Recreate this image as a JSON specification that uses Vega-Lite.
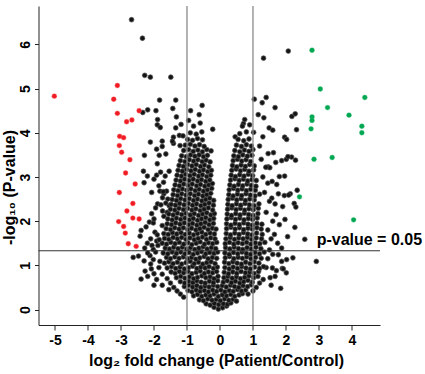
{
"$schema": "https://vega.github.io/schema/vega-lite/v6.json",
"width": 341.5,
"height": 319,
"autosize": {"type": "none"},
"padding": {"left": 38.5, "top": 6, "right": 45, "bottom": 49},
"background": "white",
"config": {
 "view": {"stroke": null},
 "font": "Liberation Sans",
 "axis": {"grid": false, "labelOverlap": false, "domainColor": "#222", "domainWidth": 1, "tickColor": "#222", "tickSize": 5, "labelFont": "Liberation Sans", "labelFontSize": 14, "labelFontWeight": "bold", "labelColor": "#000", "titleFont": "Liberation Sans", "titleFontSize": 16, "titleFontWeight": "bold", "titleColor": "#000"}
},
"datasets": {
 "down": [
  {"x":-5.02,"y":4.83},{"x":-3.11,"y":5.07},{"x":-3.22,"y":4.76},{"x":-3.11,"y":4.44},{"x":-2.45,"y":4.5},{"x":-2.83,"y":4.25},{"x":-2.67,"y":4.29},{"x":-3.04,"y":3.92},{"x":-2.92,"y":3.89},{"x":-3.05,"y":3.71},{"x":-2.98,"y":3.56},{"x":-2.73,"y":3.39},{"x":-2.86,"y":3.09},{"x":-2.57,"y":2.84},{"x":-3.05,"y":2.65},{"x":-2.64,"y":2.4},{"x":-2.82,"y":2.23},{"x":-2.64,"y":2.07},{"x":-2.45,"y":2.05},{"x":-3.07,"y":1.99},{"x":-2.92,"y":1.88},{"x":-2.87,"y":1.73},{"x":-2.78,"y":1.49},{"x":-2.54,"y":1.43}
 ],
 "up": [
  {"x":2.79,"y":5.87},{"x":3.04,"y":4.99},{"x":4.39,"y":4.8},{"x":3.26,"y":4.57},{"x":3.91,"y":4.4},{"x":2.79,"y":4.36},{"x":2.79,"y":4.28},{"x":4.3,"y":4.15},{"x":2.76,"y":4.09},{"x":4.3,"y":4.0},{"x":2.85,"y":3.4},{"x":3.4,"y":3.44},{"x":2.41,"y":2.55},{"x":4.05,"y":2.03}
 ],
 "ns": [
  {"x":-2.68,"y":6.56},{"x":-2.35,"y":6.14},{"x":-2.28,"y":5.3},{"x":-2.11,"y":5.26},{"x":-1.49,"y":5.26},
  {"x":-1.83,"y":4.74},{"x":-1.34,"y":4.74},{"x":-2.34,"y":4.46},{"x":-2.19,"y":4.52},{"x":-1.94,"y":4.5},{"x":-1.43,"y":4.55},{"x":-0.89,"y":4.5},{"x":-0.54,"y":4.62},{"x":-0.63,"y":4.41},{"x":-1.32,"y":4.36},{"x":-1.89,"y":4.3},{"x":-1.9,"y":4.18},{"x":-1.81,"y":4.12},{"x":-1.18,"y":4.19},{"x":-1.34,"y":4.11},{"x":-0.22,"y":4.08},{"x":-1.23,"y":3.94},{"x":-1.12,"y":3.93},{"x":-1.41,"y":3.9},{"x":-1.75,"y":3.81},{"x":-2.11,"y":3.79},{"x":-1.41,"y":3.76},{"x":-1.21,"y":3.71},{"x":-1.44,"y":3.81},{"x":-1.92,"y":3.63},{"x":-1.75,"y":3.69},{"x":-2.29,"y":3.49},{"x":-1.84,"y":3.49},{"x":-1.64,"y":3.52},{"x":-0.27,"y":3.59},
  {"x":-2.32,"y":3.13},{"x":-2.2,"y":3.02},{"x":-1.92,"y":3.04},{"x":-1.8,"y":3.11},{"x":-1.66,"y":3.02},{"x":-1.54,"y":3.13},{"x":-2.3,"y":2.87},{"x":-1.71,"y":2.88},{"x":-2.07,"y":2.65},{"x":-1.82,"y":2.68},{"x":-1.7,"y":2.62},{"x":-1.62,"y":2.68},{"x":-1.74,"y":2.53},{"x":-1.58,"y":2.5},{"x":-1.64,"y":2.41},{"x":-1.89,"y":2.39},{"x":-1.79,"y":2.37},{"x":-1.54,"y":2.35},{"x":-1.6,"y":2.2},{"x":-1.74,"y":2.23},{"x":-1.7,"y":2.11},{"x":-2.07,"y":2.17},{"x":-2.14,"y":1.98},{"x":-2.02,"y":1.96},{"x":-2.24,"y":1.87},{"x":-2.39,"y":1.79},{"x":-2.42,"y":1.66},{"x":-1.97,"y":1.75},{"x":-1.9,"y":1.69},{"x":-1.75,"y":1.9},
  {"x":-2.2,"y":1.5},{"x":-2.28,"y":1.39},{"x":-2.06,"y":1.45},{"x":-1.92,"y":1.55},{"x":-1.84,"y":1.58},{"x":-2.02,"y":1.36},{"x":-2.12,"y":1.22},{"x":-2.19,"y":1.28},{"x":-2.39,"y":0.69},{"x":-2.19,"y":0.75},{"x":-2.27,"y":0.87},{"x":-2.08,"y":0.92},{"x":-2.1,"y":1.03},{"x":-2.02,"y":1.13},{"x":-1.82,"y":1.09},{"x":-2.47,"y":1.21},{"x":-2.63,"y":1.18},{"x":-2.0,"y":0.81},{"x":-1.92,"y":0.68},{"x":-1.72,"y":2.67},
  {"x":-1.9,"y":3.3},{"x":-2.0,"y":2.95},{"x":-1.85,"y":2.8},{"x":-1.95,"y":2.3},{"x":-2.0,"y":2.05},{"x":-1.88,"y":1.45},{"x":-1.95,"y":1.3},{"x":-2.1,"y":1.6},{"x":-2.3,"y":1.1},{"x":-1.85,"y":0.95},{"x":-1.75,"y":0.8},{"x":-1.6,"y":0.7},{"x":-1.5,"y":0.6},{"x":-1.4,"y":0.5},{"x":-1.3,"y":0.42},{"x":-1.2,"y":0.35},{"x":-1.1,"y":0.28},{"x":-2.0,"y":0.55},{"x":-1.75,"y":0.55},{"x":-1.55,"y":0.45},
  {"x":2.07,"y":5.85},{"x":1.32,"y":5.69},{"x":1.04,"y":4.76},{"x":1.4,"y":4.8},{"x":1.28,"y":4.68},{"x":1.67,"y":4.57},{"x":1.16,"y":4.41},{"x":1.33,"y":4.34},{"x":0.71,"y":4.21},{"x":0.68,"y":4.15},{"x":1.49,"y":4.11},{"x":1.6,"y":4.06},{"x":1.96,"y":3.9},{"x":2.02,"y":3.85},{"x":0.46,"y":3.91},{"x":1.02,"y":4.01},{"x":1.3,"y":3.91},{"x":1.62,"y":3.55},{"x":1.46,"y":3.53},{"x":1.87,"y":3.37},{"x":2.01,"y":3.4},{"x":1.46,"y":3.23},{"x":1.69,"y":3.33},{"x":1.8,"y":3.01},{"x":1.96,"y":3.02},{"x":1.45,"y":2.86},{"x":1.58,"y":2.9},{"x":2.18,"y":4.37},{"x":2.28,"y":4.43},{"x":2.32,"y":4.07},{"x":2.17,"y":3.45},{"x":2.29,"y":3.38},{"x":2.06,"y":3.46},{"x":1.51,"y":3.21},{"x":1.39,"y":3.22},{"x":1.72,"y":2.83},{"x":2.34,"y":2.7},{"x":2.13,"y":2.62},{"x":1.95,"y":2.58},{"x":1.77,"y":2.62},{"x":2.25,"y":2.4},{"x":2.3,"y":2.32},{"x":1.57,"y":2.52},{"x":1.67,"y":2.39},{"x":1.9,"y":2.33},{"x":1.97,"y":2.04},{"x":1.8,"y":1.92},{"x":2.27,"y":1.86},{"x":2.57,"y":1.59},{"x":1.87,"y":1.39},{"x":2.21,"y":1.17},{"x":2.92,"y":1.09},{"x":1.89,"y":0.93},{"x":1.59,"y":0.94},{"x":1.71,"y":0.88},{"x":1.92,"y":0.92},{"x":2.01,"y":0.83},{"x":1.67,"y":0.75},{"x":1.84,"y":0.48},{"x":2.08,"y":2.59},{"x":1.52,"y":0.72},{"x":1.31,"y":0.68},{"x":2.02,"y":1.13},{"x":1.87,"y":1.09},{"x":1.77,"y":1.24},
  {"x":1.4,"y":0.95},{"x":1.45,"y":1.15},{"x":1.5,"y":1.35},{"x":1.55,"y":1.6},{"x":1.45,"y":1.8},{"x":1.6,"y":2.0},{"x":1.4,"y":2.2},{"x":1.5,"y":2.45},{"x":1.35,"y":2.65},{"x":1.3,"y":3.0},{"x":1.25,"y":3.4},{"x":1.2,"y":3.7},{"x":1.2,"y":0.6},{"x":1.1,"y":0.5},{"x":1.0,"y":0.42},{"x":0.85,"y":0.35},{"x":1.55,"y":0.55},{"x":1.65,"y":1.7},{"x":1.7,"y":2.15},{"x":2.05,"y":1.65},{"x":1.75,"y":1.5},{"x":1.6,"y":1.25},
  {"x":-0.18,"y":0.05},{"x":-0.05,"y":0.01},{"x":0.08,"y":0.04},{"x":0.2,"y":0.08},
  {"x":-0.42,"y":0.13},{"x":-0.3,"y":0.1},{"x":-0.17,"y":0.14},{"x":-0.04,"y":0.11},{"x":0.1,"y":0.13},{"x":0.23,"y":0.12},{"x":0.33,"y":0.15},
  {"x":-0.62,"y":0.22},{"x":-0.5,"y":0.2},{"x":-0.37,"y":0.24},{"x":-0.24,"y":0.21},{"x":-0.11,"y":0.23},{"x":0.01,"y":0.2},{"x":0.14,"y":0.24},{"x":0.27,"y":0.21},{"x":0.4,"y":0.23},{"x":0.5,"y":0.19},
  {"x":-0.8,"y":0.31},{"x":-0.68,"y":0.34},{"x":-0.55,"y":0.3},{"x":-0.43,"y":0.33},{"x":-0.3,"y":0.31},{"x":-0.18,"y":0.35},{"x":-0.05,"y":0.3},{"x":0.07,"y":0.33},{"x":0.2,"y":0.31},{"x":0.33,"y":0.34},{"x":0.45,"y":0.3},{"x":0.58,"y":0.33},{"x":0.68,"y":0.36},
  {"x":-0.97,"y":0.43},{"x":-0.85,"y":0.4},{"x":-0.72,"y":0.44},{"x":-0.6,"y":0.41},{"x":-0.47,"y":0.43},{"x":-0.35,"y":0.4},{"x":-0.22,"y":0.44},{"x":-0.1,"y":0.41},{"x":0.03,"y":0.44},{"x":0.15,"y":0.4},{"x":0.28,"y":0.43},{"x":0.4,"y":0.41},{"x":0.53,"y":0.45},{"x":0.65,"y":0.42},{"x":0.78,"y":0.44},
  {"x":-1.08,"y":0.52},{"x":-0.95,"y":0.55},{"x":-0.83,"y":0.51},{"x":-0.7,"y":0.54},{"x":-0.58,"y":0.5},{"x":-0.45,"y":0.53},{"x":-0.33,"y":0.51},{"x":-0.2,"y":0.55},{"x":-0.07,"y":0.52},{"x":0.07,"y":0.54},{"x":0.19,"y":0.51},{"x":0.32,"y":0.55},{"x":0.44,"y":0.52},{"x":0.57,"y":0.5},{"x":0.7,"y":0.54},{"x":0.84,"y":0.52},{"x":0.95,"y":0.56},
  {"x":-1.2,"y":0.63},{"x":-1.07,"y":0.6},{"x":-0.95,"y":0.64},{"x":-0.82,"y":0.61},{"x":-0.7,"y":0.65},{"x":-0.57,"y":0.62},{"x":-0.45,"y":0.6},{"x":-0.32,"y":0.64},{"x":-0.2,"y":0.61},{"x":-0.07,"y":0.65},{"x":0.1,"y":0.62},{"x":0.22,"y":0.65},{"x":0.35,"y":0.61},{"x":0.47,"y":0.64},{"x":0.6,"y":0.6},{"x":0.72,"y":0.63},{"x":0.85,"y":0.66},{"x":0.98,"y":0.62},
  {"x":-1.32,"y":0.72},{"x":-1.19,"y":0.75},{"x":-1.06,"y":0.71},{"x":-0.93,"y":0.74},{"x":-0.8,"y":0.7},{"x":-0.68,"y":0.73},{"x":-0.55,"y":0.76},{"x":-0.43,"y":0.72},{"x":-0.3,"y":0.74},{"x":-0.18,"y":0.7},{"x":-0.06,"y":0.75},{"x":0.12,"y":0.72},{"x":0.24,"y":0.75},{"x":0.37,"y":0.71},{"x":0.5,"y":0.74},{"x":0.62,"y":0.7},{"x":0.75,"y":0.73},{"x":0.88,"y":0.76},{"x":1.02,"y":0.72},{"x":1.15,"y":0.75},
  {"x":-1.48,"y":0.85},{"x":-1.36,"y":0.82},{"x":-1.23,"y":0.86},{"x":-1.1,"y":0.83},{"x":-0.97,"y":0.86},{"x":-0.85,"y":0.81},{"x":-0.72,"y":0.84},{"x":-0.6,"y":0.87},{"x":-0.47,"y":0.82},{"x":-0.35,"y":0.85},{"x":-0.22,"y":0.83},{"x":-0.1,"y":0.86},{"x":0.13,"y":0.84},{"x":0.26,"y":0.81},{"x":0.39,"y":0.85},{"x":0.51,"y":0.82},{"x":0.64,"y":0.86},{"x":0.77,"y":0.83},{"x":0.9,"y":0.85},{"x":1.03,"y":0.82},{"x":1.17,"y":0.86},
  {"x":-1.6,"y":0.94},{"x":-1.47,"y":0.97},{"x":-1.34,"y":0.93},{"x":-1.21,"y":0.96},{"x":-1.08,"y":0.92},{"x":-0.95,"y":0.95},{"x":-0.83,"y":0.98},{"x":-0.7,"y":0.93},{"x":-0.58,"y":0.96},{"x":-0.45,"y":0.94},{"x":-0.33,"y":0.97},{"x":-0.2,"y":0.93},{"x":-0.08,"y":0.96},{"x":0.15,"y":0.95},{"x":0.28,"y":0.92},{"x":0.4,"y":0.96},{"x":0.53,"y":0.93},{"x":0.66,"y":0.97},{"x":0.79,"y":0.94},{"x":0.92,"y":0.92},{"x":1.05,"y":0.96},{"x":1.2,"y":0.93},{"x":1.32,"y":0.97},
  {"x":-1.68,"y":1.05},{"x":-1.55,"y":1.08},{"x":-1.42,"y":1.04},{"x":-1.29,"y":1.07},{"x":-1.16,"y":1.03},{"x":-1.03,"y":1.06},{"x":-0.9,"y":1.09},{"x":-0.78,"y":1.04},{"x":-0.65,"y":1.07},{"x":-0.52,"y":1.03},{"x":-0.4,"y":1.06},{"x":-0.27,"y":1.08},{"x":-0.15,"y":1.04},{"x":0.14,"y":1.07},{"x":0.27,"y":1.04},{"x":0.39,"y":1.08},{"x":0.52,"y":1.05},{"x":0.65,"y":1.03},{"x":0.78,"y":1.07},{"x":0.91,"y":1.04},{"x":1.04,"y":1.08},{"x":1.18,"y":1.05},
  {"x":-1.62,"y":1.18},{"x":-1.5,"y":1.15},{"x":-1.37,"y":1.19},{"x":-1.24,"y":1.16},{"x":-1.11,"y":1.19},{"x":-0.98,"y":1.15},{"x":-0.86,"y":1.18},{"x":-0.73,"y":1.14},{"x":-0.61,"y":1.17},{"x":-0.48,"y":1.2},{"x":-0.36,"y":1.15},{"x":-0.23,"y":1.18},{"x":-0.1,"y":1.16},{"x":0.16,"y":1.17},{"x":0.29,"y":1.2},{"x":0.42,"y":1.15},{"x":0.55,"y":1.18},{"x":0.68,"y":1.16},{"x":0.81,"y":1.19},{"x":0.94,"y":1.15},{"x":1.08,"y":1.18},{"x":1.25,"y":1.16},
  {"x":-1.72,"y":1.28},{"x":-1.58,"y":1.26},{"x":-1.45,"y":1.3},{"x":-1.32,"y":1.27},{"x":-1.19,"y":1.3},{"x":-1.06,"y":1.26},{"x":-0.94,"y":1.29},{"x":-0.81,"y":1.25},{"x":-0.68,"y":1.28},{"x":-0.56,"y":1.31},{"x":-0.43,"y":1.26},{"x":-0.31,"y":1.29},{"x":-0.18,"y":1.27},{"x":-0.07,"y":1.3},{"x":0.15,"y":1.28},{"x":0.28,"y":1.25},{"x":0.41,"y":1.29},{"x":0.54,"y":1.26},{"x":0.67,"y":1.3},{"x":0.8,"y":1.27},{"x":0.93,"y":1.25},{"x":1.06,"y":1.29},{"x":1.2,"y":1.26},{"x":1.34,"y":1.3},
  {"x":-1.66,"y":1.39},{"x":-1.53,"y":1.37},{"x":-1.4,"y":1.41},{"x":-1.27,"y":1.38},{"x":-1.14,"y":1.41},{"x":-1.01,"y":1.37},{"x":-0.89,"y":1.4},{"x":-0.76,"y":1.36},{"x":-0.64,"y":1.39},{"x":-0.51,"y":1.42},{"x":-0.39,"y":1.37},{"x":-0.26,"y":1.4},{"x":-0.13,"y":1.38},{"x":0.17,"y":1.4},{"x":0.3,"y":1.37},{"x":0.43,"y":1.41},{"x":0.56,"y":1.38},{"x":0.69,"y":1.36},{"x":0.82,"y":1.4},{"x":0.95,"y":1.37},{"x":1.09,"y":1.41},{"x":1.24,"y":1.38},
  {"x":-1.75,"y":1.5},{"x":-1.62,"y":1.48},{"x":-1.49,"y":1.52},{"x":-1.36,"y":1.49},{"x":-1.23,"y":1.52},{"x":-1.1,"y":1.48},{"x":-0.97,"y":1.51},{"x":-0.85,"y":1.47},{"x":-0.72,"y":1.5},{"x":-0.6,"y":1.53},{"x":-0.47,"y":1.48},{"x":-0.35,"y":1.51},{"x":-0.22,"y":1.49},{"x":-0.1,"y":1.52},{"x":0.16,"y":1.49},{"x":0.29,"y":1.52},{"x":0.42,"y":1.48},{"x":0.55,"y":1.51},{"x":0.68,"y":1.49},{"x":0.81,"y":1.52},{"x":0.94,"y":1.48},{"x":1.07,"y":1.51},{"x":1.21,"y":1.49},{"x":1.36,"y":1.52},
  {"x":-1.68,"y":1.61},{"x":-1.55,"y":1.59},{"x":-1.42,"y":1.63},{"x":-1.29,"y":1.6},{"x":-1.16,"y":1.63},{"x":-1.03,"y":1.59},{"x":-0.91,"y":1.62},{"x":-0.78,"y":1.58},{"x":-0.66,"y":1.61},{"x":-0.53,"y":1.64},{"x":-0.41,"y":1.59},{"x":-0.28,"y":1.62},{"x":-0.15,"y":1.6},{"x":0.18,"y":1.6},{"x":0.31,"y":1.63},{"x":0.44,"y":1.59},{"x":0.57,"y":1.62},{"x":0.7,"y":1.6},{"x":0.83,"y":1.63},{"x":0.96,"y":1.59},{"x":1.1,"y":1.62},{"x":1.26,"y":1.6},
  {"x":-1.7,"y":1.72},{"x":-1.57,"y":1.7},{"x":-1.44,"y":1.74},{"x":-1.31,"y":1.71},{"x":-1.18,"y":1.74},{"x":-1.05,"y":1.7},{"x":-0.93,"y":1.73},{"x":-0.8,"y":1.69},{"x":-0.68,"y":1.72},{"x":-0.55,"y":1.75},{"x":-0.43,"y":1.7},{"x":-0.3,"y":1.73},{"x":-0.17,"y":1.71},{"x":0.19,"y":1.72},{"x":0.32,"y":1.69},{"x":0.45,"y":1.73},{"x":0.58,"y":1.7},{"x":0.71,"y":1.74},{"x":0.84,"y":1.71},{"x":0.97,"y":1.69},{"x":1.11,"y":1.73},{"x":1.28,"y":1.7},
  {"x":-1.63,"y":1.83},{"x":-1.5,"y":1.81},{"x":-1.37,"y":1.85},{"x":-1.24,"y":1.82},{"x":-1.11,"y":1.85},{"x":-0.98,"y":1.81},{"x":-0.86,"y":1.84},{"x":-0.73,"y":1.8},{"x":-0.61,"y":1.83},{"x":-0.48,"y":1.86},{"x":-0.36,"y":1.81},{"x":-0.23,"y":1.84},{"x":-0.12,"y":1.82},{"x":0.2,"y":1.83},{"x":0.33,"y":1.86},{"x":0.46,"y":1.82},{"x":0.59,"y":1.85},{"x":0.72,"y":1.81},{"x":0.85,"y":1.84},{"x":0.98,"y":1.82},{"x":1.12,"y":1.85},{"x":1.25,"y":1.82},
  {"x":-1.6,"y":1.94},{"x":-1.47,"y":1.92},{"x":-1.34,"y":1.96},{"x":-1.21,"y":1.93},{"x":-1.08,"y":1.96},{"x":-0.95,"y":1.92},{"x":-0.83,"y":1.95},{"x":-0.7,"y":1.91},{"x":-0.58,"y":1.94},{"x":-0.45,"y":1.97},{"x":-0.33,"y":1.92},{"x":-0.2,"y":1.95},{"x":0.2,"y":1.94},{"x":0.33,"y":1.91},{"x":0.46,"y":1.95},{"x":0.59,"y":1.92},{"x":0.72,"y":1.96},{"x":0.85,"y":1.93},{"x":0.98,"y":1.91},{"x":1.12,"y":1.95},{"x":1.27,"y":1.93},
  {"x":-1.58,"y":2.05},{"x":-1.45,"y":2.03},{"x":-1.32,"y":2.07},{"x":-1.19,"y":2.04},{"x":-1.06,"y":2.07},{"x":-0.93,"y":2.03},{"x":-0.81,"y":2.06},{"x":-0.68,"y":2.02},{"x":-0.56,"y":2.05},{"x":-0.43,"y":2.08},{"x":-0.31,"y":2.03},{"x":-0.19,"y":2.06},{"x":0.21,"y":2.05},{"x":0.34,"y":2.08},{"x":0.47,"y":2.04},{"x":0.6,"y":2.07},{"x":0.73,"y":2.03},{"x":0.86,"y":2.06},{"x":0.99,"y":2.04},{"x":1.13,"y":2.07},
  {"x":-1.55,"y":2.16},{"x":-1.42,"y":2.14},{"x":-1.29,"y":2.18},{"x":-1.16,"y":2.15},{"x":-1.03,"y":2.18},{"x":-0.9,"y":2.14},{"x":-0.78,"y":2.17},{"x":-0.65,"y":2.13},{"x":-0.53,"y":2.16},{"x":-0.4,"y":2.19},{"x":-0.28,"y":2.14},{"x":-0.17,"y":2.17},{"x":0.22,"y":2.16},{"x":0.35,"y":2.13},{"x":0.48,"y":2.17},{"x":0.61,"y":2.14},{"x":0.74,"y":2.18},{"x":0.87,"y":2.15},{"x":1.0,"y":2.13},{"x":1.15,"y":2.17},
  {"x":-1.5,"y":2.27},{"x":-1.37,"y":2.25},{"x":-1.24,"y":2.29},{"x":-1.11,"y":2.26},{"x":-0.98,"y":2.29},{"x":-0.85,"y":2.25},{"x":-0.73,"y":2.28},{"x":-0.6,"y":2.24},{"x":-0.48,"y":2.27},{"x":-0.35,"y":2.3},{"x":-0.22,"y":2.25},{"x":0.23,"y":2.27},{"x":0.36,"y":2.3},{"x":0.49,"y":2.26},{"x":0.62,"y":2.29},{"x":0.75,"y":2.25},{"x":0.88,"y":2.28},{"x":1.01,"y":2.26},{"x":1.16,"y":2.29},
  {"x":-1.48,"y":2.38},{"x":-1.35,"y":2.36},{"x":-1.22,"y":2.4},{"x":-1.09,"y":2.37},{"x":-0.96,"y":2.4},{"x":-0.83,"y":2.36},{"x":-0.71,"y":2.39},{"x":-0.58,"y":2.35},{"x":-0.46,"y":2.38},{"x":-0.33,"y":2.41},{"x":-0.2,"y":2.36},{"x":0.24,"y":2.38},{"x":0.37,"y":2.35},{"x":0.5,"y":2.39},{"x":0.63,"y":2.36},{"x":0.76,"y":2.4},{"x":0.89,"y":2.37},{"x":1.03,"y":2.35},{"x":1.18,"y":2.39},
  {"x":-1.45,"y":2.49},{"x":-1.32,"y":2.47},{"x":-1.19,"y":2.51},{"x":-1.06,"y":2.48},{"x":-0.93,"y":2.51},{"x":-0.8,"y":2.47},{"x":-0.68,"y":2.5},{"x":-0.55,"y":2.46},{"x":-0.43,"y":2.49},{"x":-0.31,"y":2.52},{"x":-0.19,"y":2.47},{"x":0.25,"y":2.49},{"x":0.38,"y":2.52},{"x":0.51,"y":2.48},{"x":0.64,"y":2.51},{"x":0.77,"y":2.47},{"x":0.9,"y":2.5},{"x":1.04,"y":2.48},
  {"x":-1.42,"y":2.6},{"x":-1.29,"y":2.58},{"x":-1.16,"y":2.62},{"x":-1.03,"y":2.59},{"x":-0.9,"y":2.62},{"x":-0.77,"y":2.58},{"x":-0.65,"y":2.61},{"x":-0.52,"y":2.57},{"x":-0.4,"y":2.6},{"x":-0.28,"y":2.63},{"x":0.27,"y":2.6},{"x":0.4,"y":2.57},{"x":0.53,"y":2.61},{"x":0.66,"y":2.58},{"x":0.79,"y":2.62},{"x":0.92,"y":2.59},{"x":1.06,"y":2.57},{"x":1.2,"y":2.61},
  {"x":-1.4,"y":2.71},{"x":-1.27,"y":2.69},{"x":-1.14,"y":2.73},{"x":-1.01,"y":2.7},{"x":-0.88,"y":2.73},{"x":-0.75,"y":2.69},{"x":-0.63,"y":2.72},{"x":-0.5,"y":2.68},{"x":-0.38,"y":2.71},{"x":-0.25,"y":2.74},{"x":0.28,"y":2.71},{"x":0.41,"y":2.74},{"x":0.54,"y":2.7},{"x":0.67,"y":2.73},{"x":0.8,"y":2.69},{"x":0.93,"y":2.72},{"x":1.07,"y":2.7},
  {"x":-1.36,"y":2.82},{"x":-1.23,"y":2.8},{"x":-1.1,"y":2.84},{"x":-0.97,"y":2.81},{"x":-0.84,"y":2.84},{"x":-0.71,"y":2.8},{"x":-0.59,"y":2.83},{"x":-0.46,"y":2.79},{"x":-0.34,"y":2.82},{"x":-0.23,"y":2.85},{"x":0.3,"y":2.82},{"x":0.43,"y":2.79},{"x":0.56,"y":2.83},{"x":0.69,"y":2.8},{"x":0.82,"y":2.84},{"x":0.95,"y":2.81},{"x":1.09,"y":2.79},
  {"x":-1.33,"y":2.93},{"x":-1.2,"y":2.91},{"x":-1.07,"y":2.95},{"x":-0.94,"y":2.92},{"x":-0.81,"y":2.95},{"x":-0.68,"y":2.91},{"x":-0.56,"y":2.94},{"x":-0.43,"y":2.9},{"x":-0.31,"y":2.93},{"x":0.32,"y":2.93},{"x":0.45,"y":2.96},{"x":0.58,"y":2.92},{"x":0.71,"y":2.95},{"x":0.84,"y":2.91},{"x":0.97,"y":2.94},{"x":1.1,"y":2.92},
  {"x":-1.3,"y":3.04},{"x":-1.17,"y":3.02},{"x":-1.04,"y":3.06},{"x":-0.91,"y":3.03},{"x":-0.78,"y":3.06},{"x":-0.65,"y":3.02},{"x":-0.53,"y":3.05},{"x":-0.4,"y":3.01},{"x":-0.28,"y":3.04},{"x":0.34,"y":3.04},{"x":0.47,"y":3.01},{"x":0.6,"y":3.05},{"x":0.73,"y":3.02},{"x":0.86,"y":3.06},{"x":0.99,"y":3.03},
  {"x":-1.27,"y":3.15},{"x":-1.14,"y":3.13},{"x":-1.01,"y":3.17},{"x":-0.88,"y":3.14},{"x":-0.75,"y":3.17},{"x":-0.62,"y":3.13},{"x":-0.5,"y":3.16},{"x":-0.37,"y":3.12},{"x":-0.26,"y":3.15},{"x":0.36,"y":3.15},{"x":0.49,"y":3.18},{"x":0.62,"y":3.14},{"x":0.75,"y":3.17},{"x":0.88,"y":3.13},{"x":1.02,"y":3.16},
  {"x":-1.24,"y":3.26},{"x":-1.11,"y":3.24},{"x":-0.98,"y":3.28},{"x":-0.85,"y":3.25},{"x":-0.72,"y":3.28},{"x":-0.59,"y":3.24},{"x":-0.47,"y":3.27},{"x":-0.34,"y":3.23},{"x":0.38,"y":3.26},{"x":0.51,"y":3.23},{"x":0.64,"y":3.27},{"x":0.77,"y":3.24},{"x":0.9,"y":3.28},{"x":1.04,"y":3.25},
  {"x":-1.2,"y":3.37},{"x":-1.06,"y":3.35},{"x":-0.93,"y":3.39},{"x":-0.8,"y":3.36},{"x":-0.67,"y":3.39},{"x":-0.54,"y":3.35},{"x":-0.42,"y":3.38},{"x":-0.3,"y":3.34},{"x":0.4,"y":3.37},{"x":0.53,"y":3.4},{"x":0.66,"y":3.36},{"x":0.79,"y":3.39},{"x":0.93,"y":3.35},
  {"x":-1.16,"y":3.48},{"x":-1.02,"y":3.46},{"x":-0.89,"y":3.5},{"x":-0.76,"y":3.47},{"x":-0.63,"y":3.5},{"x":-0.5,"y":3.46},{"x":-0.38,"y":3.49},{"x":0.42,"y":3.48},{"x":0.56,"y":3.46},{"x":0.69,"y":3.5},{"x":0.83,"y":3.47},{"x":0.97,"y":3.49},
  {"x":-1.1,"y":3.6},{"x":-0.95,"y":3.62},{"x":-0.81,"y":3.58},{"x":-0.67,"y":3.61},{"x":-0.53,"y":3.57},{"x":-0.4,"y":3.62},{"x":0.45,"y":3.6},{"x":0.6,"y":3.57},{"x":0.74,"y":3.61},{"x":0.88,"y":3.58},{"x":1.0,"y":3.62},
  {"x":-1.05,"y":3.72},{"x":-0.9,"y":3.74},{"x":-0.76,"y":3.7},{"x":-0.62,"y":3.73},{"x":-0.48,"y":3.69},{"x":0.5,"y":3.72},{"x":0.65,"y":3.69},{"x":0.8,"y":3.73},{"x":0.95,"y":3.7},
  {"x":-0.98,"y":3.85},{"x":-0.83,"y":3.83},{"x":-0.68,"y":3.87},{"x":-0.53,"y":3.84},{"x":0.55,"y":3.85},{"x":0.72,"y":3.82},{"x":0.88,"y":3.86},
  {"x":-0.9,"y":4.0},{"x":-0.72,"y":3.97},{"x":-0.55,"y":4.02},{"x":0.6,"y":3.98},{"x":0.8,"y":4.02},
  {"x":-0.8,"y":4.15},{"x":-0.6,"y":4.22},{"x":-0.95,"y":4.28},{"x":0.75,"y":4.3},{"x":0.9,"y":4.18}
 ]
},
"layer": [
 {"data": {"name": "ns"}, "mark": {"type": "circle", "size": 23, "opacity": 1, "fill": "#141414", "stroke": "#555555", "strokeWidth": 0.7},
  "encoding": {
   "x": {"field": "x", "type": "quantitative", "scale": {"domain": [-5.5, 4.85], "nice": false, "zero": false},
     "axis": {"values": [-5,-4,-3,-2,-1,0,1,2,3,4], "labelOverlap": false, "labelFlush": false, "labelBound": false, "labelExpr": "'' + datum.value", "labelPadding": 3, "title": "log₂ fold change (Patient/Control)", "titleX": 177.5, "titleY": 40, "titleBaseline": "alphabetic", "titleAnchor": "middle", "titleAlign": "center"}},
   "y": {"field": "y", "type": "quantitative", "scale": {"domain": [-0.35, 6.87], "nice": false, "zero": false},
     "axis": {"values": [0,1,2,3,4,5,6], "labelOverlap": false, "labelAngle": -90, "labelAlign": "center", "labelBaseline": "bottom", "labelPadding": 2, "tickSize": 4, "title": "-log₁₀ (P-value)", "titleX": -29, "titleY": 181, "titleBaseline": "middle", "titleAlign": "center", "titleAngle": -90}}
  }},
 {"data": {"name": "down"}, "mark": {"type": "circle", "size": 24, "opacity": 1, "fill": "#ee1c24", "stroke": "#ff5a5a", "strokeWidth": 0.4},
  "encoding": {
   "x": {"field": "x", "type": "quantitative", "axis": {"values": [-5,-4,-3,-2,-1,0,1,2,3,4], "labelOverlap": false, "labelFlush": false, "labelBound": false, "labelExpr": "'' + datum.value", "labelPadding": 3, "title": "log₂ fold change (Patient/Control)", "titleX": 177.5, "titleY": 40, "titleBaseline": "alphabetic", "titleAnchor": "middle", "titleAlign": "center"}},
   "y": {"field": "y", "type": "quantitative", "axis": {"values": [0,1,2,3,4,5,6], "labelOverlap": false, "labelAngle": -90, "labelAlign": "center", "labelBaseline": "bottom", "labelPadding": 2, "tickSize": 4, "title": "-log₁₀ (P-value)", "titleX": -29, "titleY": 181, "titleBaseline": "middle", "titleAlign": "center", "titleAngle": -90}}
  }},
 {"data": {"name": "up"}, "mark": {"type": "circle", "size": 24, "opacity": 1, "fill": "#00a651", "stroke": "#3cc07a", "strokeWidth": 0.4},
  "encoding": {
   "x": {"field": "x", "type": "quantitative", "axis": {"values": [-5,-4,-3,-2,-1,0,1,2,3,4], "labelOverlap": false, "labelFlush": false, "labelBound": false, "labelExpr": "'' + datum.value", "labelPadding": 3, "title": "log₂ fold change (Patient/Control)", "titleX": 177.5, "titleY": 40, "titleBaseline": "alphabetic", "titleAnchor": "middle", "titleAlign": "center"}},
   "y": {"field": "y", "type": "quantitative", "axis": {"values": [0,1,2,3,4,5,6], "labelOverlap": false, "labelAngle": -90, "labelAlign": "center", "labelBaseline": "bottom", "labelPadding": 2, "tickSize": 4, "title": "-log₁₀ (P-value)", "titleX": -29, "titleY": 181, "titleBaseline": "middle", "titleAlign": "center", "titleAngle": -90}}
  }},
 {"data": {"values": [{"x": -1}, {"x": 1}]}, "mark": {"type": "rule", "color": "#8a8a8a", "strokeWidth": 1.3},
  "encoding": {"x": {"field": "x", "type": "quantitative", "axis": {"values": [-5,-4,-3,-2,-1,0,1,2,3,4], "labelOverlap": false, "labelFlush": false, "labelBound": false, "labelExpr": "'' + datum.value", "labelPadding": 3, "title": "log₂ fold change (Patient/Control)", "titleX": 177.5, "titleY": 40, "titleBaseline": "alphabetic", "titleAnchor": "middle", "titleAlign": "center"}}}},
 {"data": {"values": [{"y": 1.33}]}, "mark": {"type": "rule", "color": "#333333", "strokeWidth": 1.2},
  "encoding": {"y": {"field": "y", "type": "quantitative", "axis": {"values": [0,1,2,3,4,5,6], "labelOverlap": false, "labelAngle": -90, "labelAlign": "center", "labelBaseline": "bottom", "labelPadding": 2, "tickSize": 4, "title": "-log₁₀ (P-value)", "titleX": -29, "titleY": 181, "titleBaseline": "middle", "titleAlign": "center", "titleAngle": -90}}}},
 {"data": {"values": [{"label": "p-value = 0.05", "x": 2.93, "y": 1.47}]}, "mark": {"type": "text", "font": "Liberation Sans", "fontSize": 16, "fontWeight": "bold", "color": "#000", "align": "left", "baseline": "alphabetic"},
  "encoding": {
   "x": {"field": "x", "type": "quantitative", "axis": {"values": [-5,-4,-3,-2,-1,0,1,2,3,4], "labelOverlap": false, "labelFlush": false, "labelBound": false, "labelExpr": "'' + datum.value", "labelPadding": 3, "title": "log₂ fold change (Patient/Control)", "titleX": 177.5, "titleY": 40, "titleBaseline": "alphabetic", "titleAnchor": "middle", "titleAlign": "center"}},
   "y": {"field": "y", "type": "quantitative", "axis": {"values": [0,1,2,3,4,5,6], "labelOverlap": false, "labelAngle": -90, "labelAlign": "center", "labelBaseline": "bottom", "labelPadding": 2, "tickSize": 4, "title": "-log₁₀ (P-value)", "titleX": -29, "titleY": 181, "titleBaseline": "middle", "titleAlign": "center", "titleAngle": -90}},
   "text": {"field": "label"}}}
]
}
